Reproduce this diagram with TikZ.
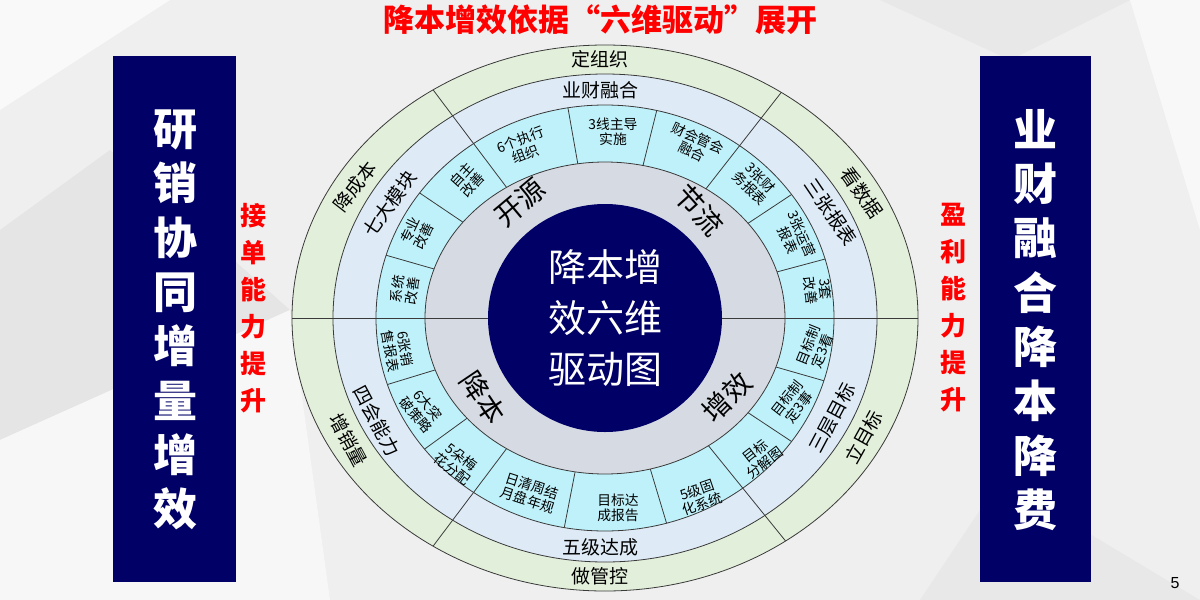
\documentclass[tikz,border=0pt]{standalone}
\usepackage{fontspec}
\setsansfont{Liberation Sans}
\newfontfamily\cjk{Noto Sans CJK SC}
\definecolor{navyblue}{HTML}{000066}
\definecolor{ringgreen}{HTML}{E2EFDA}
\definecolor{ringblue}{HTML}{DEEBF7}
\definecolor{cellcyan}{HTML}{BFF1FA}
\definecolor{ringgray}{HTML}{D6DBE3}
\definecolor{edgegray}{HTML}{3A3A3A}
\definecolor{bggray}{HTML}{EFEFEF}

\begin{document}
\begin{tikzpicture}[x=1pt, y=1pt,
    ring/.style={draw=edgegray, line width=0.8pt},
    sepline/.style={draw=edgegray, line width=0.8pt},
    outerlbl/.style={font=\cjk\fontsize{19}{21}\selectfont, inner sep=0pt},
    celltxt/.style={font=\cjk\fontsize{13.8}{15.2}\selectfont, align=center, inner sep=0pt},
    corelbl/.style={font=\cjk\fontsize{28}{30}\selectfont, inner sep=0pt},
    sidebox/.style={fill=navyblue, draw=none},
    sidetxt/.style={font=\cjk\bfseries\fontsize{44}{54.3}\selectfont, text=white, align=center},
    redtxt/.style={font=\cjk\bfseries\fontsize{26}{37}\selectfont, text=red, align=center}
]
\useasboundingbox (0,0) rectangle (1200,-600);

% background facets
\fill[bggray] (0,0) rectangle (1200,-600);
\fill[white!60!bggray] (0,0) -- (170,0) -- (0,-110) -- cycle;
\fill[black!4!bggray] (0,-230) -- (110,-150) -- (290,-310) -- (0,-440) -- cycle;
\fill[white!50!bggray] (0,-440) -- (290,-310) -- (330,-600) -- (0,-600) -- cycle;
\fill[black!3!bggray] (880,0) -- (1010,-60) -- (1130,0) -- cycle;
\fill[white!55!bggray] (1130,0) -- (1200,0) -- (1200,-230) -- cycle;
\fill[black!3!bggray] (920,-600) -- (1000,-480) -- (1200,-600) -- cycle;

\node[font=\cjk\bfseries\fontsize{31}{34}\selectfont, text=red] (title) at (600,-20) {降本增效依据“六维驱动”展开};

% side panels
\fill[sidebox] (113,-56) rectangle (236,-582);
\fill[sidebox] (980,-56) rectangle (1091,-582);
\node[sidetxt] (leftcol) at (175,-320) {研\\销\\协\\同\\增\\量\\增\\效};
\node[sidetxt] (rightcol) at (1035,-320) {业\\财\\融\\合\\降\\本\\降\\费};
\node[redtxt] (leftred) at (253,-308) {接\\单\\能\\力\\提\\升};
\node[redtxt] (rightred) at (953,-308) {盈\\利\\能\\力\\提\\升};

% rings
\coordinate (c) at (605,-318);
\draw[ring, fill=ringgreen] (c) ellipse [x radius=313, y radius=273];
\draw[ring, fill=ringblue] (c) ellipse [x radius=272, y radius=244];
\draw[ring, fill=cellcyan] (c) ellipse [x radius=229, y radius=213];
\begin{scope}
  \clip (c) ellipse [x radius=229, y radius=213];
  \foreach \a in {100,76,146,164,33.5,15,-16,-33.5,259,286.7,197,216}
    \draw[sepline] (c) -- ++(\a:300);
\end{scope}
\begin{scope}
  \clip (c) ellipse [x radius=313, y radius=273];
  \foreach \a in {0,52,127,180,233,-51}
    \draw[sepline] (c) -- ++(\a:400);
\end{scope}
\draw[ring, fill=ringgray] (c) ellipse [x radius=180, y radius=156];
\draw[sepline] ([xshift=-180]c) -- ([xshift=180]c);
\fill[navyblue] (c) ellipse [x radius=117, y radius=114];

\node[font=\cjk\fontsize{38}{51}\selectfont, text=white, align=center] (core) at (605,-318) {降本增\\效六维\\驱动图};

% gray ring
\node[corelbl, rotate=40] (kaiyuan) at (520,-203) {开源};
\node[corelbl, rotate=-48] (jieliu) at (699,-210) {节流};
\node[corelbl, rotate=-56] (jiangben) at (483,-398) {降本};
\node[corelbl, rotate=45] (zengxiao) at (727,-397) {增效};

% outer ring
\node[outerlbl] (dzz) at (600,-59) {定组织};
\node[outerlbl, rotate=52] (jcb) at (355,-187) {降成本};
\node[outerlbl, rotate=-55] (ksj) at (862,-193) {看数据};
\node[outerlbl, rotate=-62] (zxl) at (348,-440) {增销量};
\node[outerlbl, rotate=61] (lmb) at (864,-437) {立目标};
\node[outerlbl] (zgk) at (600,-576) {做管控};

% middle ring
\node[outerlbl] (ycrh) at (600,-90) {业财融合};
\node[outerlbl, rotate=54] (qdmk) at (390,-204) {七大模块};
\node[outerlbl, rotate=-56] (szbb) at (831,-212) {三张报表};
\node[outerlbl, rotate=-62] (shnl) at (377,-421) {四会能力};
\node[outerlbl, rotate=62] (scmb) at (832,-418) {三层目标};
\node[outerlbl] (wjdc) at (600,-547) {五级达成};

% cells
\node[celltxt, rotate=21] (c1) at (523,-147) {6个执行\\组织};
\node[celltxt] (c2) at (613,-132) {3线主导\\实施};
\node[celltxt, rotate=-25] (c3) at (695,-145) {财会管会\\融合};
\node[celltxt, rotate=-45] (c4) at (755,-183) {3张财\\务报表};
\node[celltxt, rotate=-67] (c5) at (795,-237) {3张运营\\报表};
\node[celltxt, rotate=-83] (c6) at (818,-290) {3套\\改善};
\node[celltxt, rotate=68] (c7) at (815,-348) {目标制\\定3看};
\node[celltxt, rotate=52] (c8) at (793,-403) {目标制\\定3事};
\node[celltxt, rotate=38] (c9) at (760,-457) {目标\\分解图};
\node[celltxt, rotate=19] (c10) at (700,-497) {5级固\\化系统};
\node[celltxt] (c11) at (618,-508) {目标达\\成报告};
\node[celltxt, rotate=-18] (c12) at (530,-493) {日清周结\\月盘年规};
\node[celltxt, rotate=-37] (c13) at (457,-463) {5朵梅\\花分配};
\node[celltxt, rotate=-50] (c14) at (422,-410) {6大突\\破策略};
\node[celltxt, rotate=-80] (c15) at (398,-350) {6张销\\售报表};
\node[celltxt, rotate=82] (c16) at (405,-290) {系统\\改善};
\node[celltxt, rotate=65] (c17) at (417,-233) {专业\\改善};
\node[celltxt, rotate=48] (c18) at (467,-180) {自主\\改善};

\node[font=\sffamily\fontsize{16}{18}\selectfont] (pagenum) at (1175,-583) {5};
\end{tikzpicture}
\end{document}
